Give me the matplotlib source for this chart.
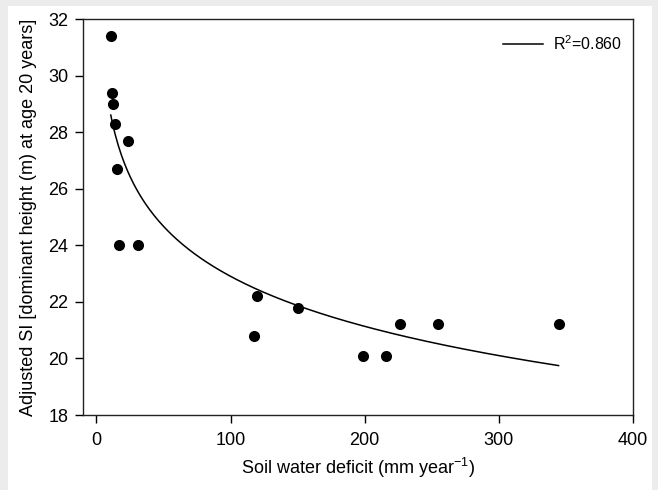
import numpy as np
import matplotlib
matplotlib.use("Agg")
import matplotlib.pyplot as plt
from matplotlib.patches import Rectangle

# Data
swd = [10.7, 11.5, 12.5, 13.5, 23.5, 15.0, 17.0, 31.0, 120.0, 117.5, 150.5,
       198.5, 216.0, 226.5, 255.0, 344.5]
si = [31.4, 29.4, 29.0, 28.3, 27.7, 26.7, 24.0, 24.0, 22.2, 20.8, 21.8,
      20.1, 20.1, 21.2, 21.2, 21.2]
# logarithmic regression: SI = a + b*ln(SWD)
fit_a = 34.65
fit_b = -2.551
r2_label = "R$^2$=0.860"
xticks = [0, 100, 200, 300, 400]
yticks = [18, 20, 22, 24, 26, 28, 30, 32]

plt.rcParams['font.family'] = ['Liberation Sans', 'DejaVu Sans']
plt.rcParams['mathtext.fontset'] = 'custom'
plt.rcParams['mathtext.rm'] = 'Liberation Sans'
plt.rcParams['mathtext.it'] = 'Liberation Sans'
plt.rcParams['mathtext.default'] = 'regular'

fig = plt.figure(figsize=(6.58, 4.90), dpi=100, facecolor='#ececec')
fig.patches.append(Rectangle((8/658, 0), (652-8)/658, (490-6)/490,
                             transform=fig.transFigure, facecolor='white',
                             edgecolor='none', zorder=-10))
ax = fig.add_axes([83/658, 1-415/490, (633-83)/658, (415-19)/490])
ax.set_zorder(1)

ax.scatter(swd, si, s=64, color='black', zorder=3, linewidths=0)
xs = np.linspace(min(swd), max(swd), 300)
ax.plot(xs, fit_a + fit_b*np.log(xs), color='black', lw=1.1, label=r2_label)

ax.set_xlim(-10, 400)
ax.set_ylim(18, 32)
ax.set_xticks(xticks)
ax.set_yticks(yticks)
ax.tick_params(direction='out', length=5.5, width=1, labelsize=13, pad=5,
               colors='black')
ax.tick_params(axis='x', pad=7)
for s in ax.spines.values():
    s.set_linewidth(1.0)
    s.set_color('#222222')

ax.set_xlabel("Soil water deficit (mm year$^{-1}$)", fontsize=13, labelpad=5)
ax.set_ylabel("Adjusted SI [dominant height (m) at age 20 years]", fontsize=13,
              labelpad=8)

leg = ax.legend(loc='upper right', frameon=False, fontsize=11.5,
                handlelength=2.5, handletextpad=0.6,
                bbox_to_anchor=(1.0, 0.99), borderaxespad=0.3)

fig.savefig("out.png", dpi=100, facecolor=fig.get_facecolor())
